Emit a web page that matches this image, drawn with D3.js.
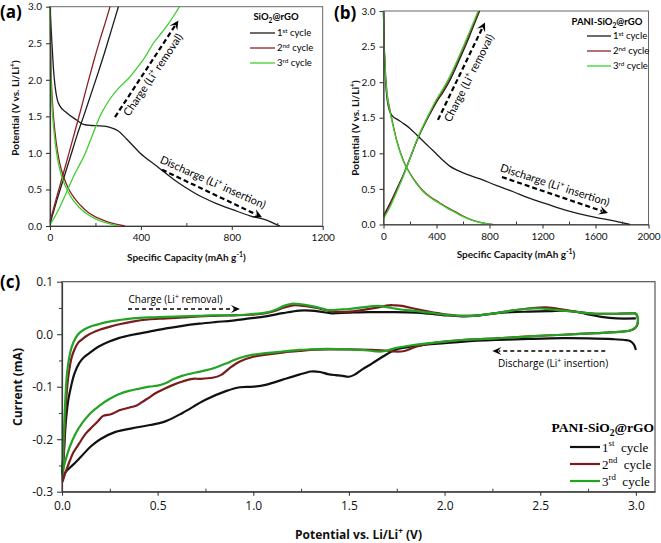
<!DOCTYPE html>
<html><head><meta charset="utf-8">
<script src="https://cdn.jsdelivr.net/npm/d3@7"></script>
<style>body{margin:0;background:#fff}</style>
</head><body>
<svg id="chart" width="661" height="543"></svg>
<script>
// ---------- DATA ----------
// Panel (a) SiO2@rGO : [capacity mAh/g, potential V]
const aDis1 = [[0,3.0],[4,2.75],[10,2.42],[16,2.12],[22,1.92],[32,1.73],[44,1.64],[73,1.55],[117,1.45],[147,1.39],[180,1.375],[220,1.37],[264,1.35],[301,1.30],[337,1.19],[396,1.00],[469,0.82],[543,0.64],[600,0.52],[660,0.41],[730,0.31],[807,0.22],[880,0.14],[953,0.08],[990,0.03],[1012,0.0]];
const aChg1 = [[2,0.05],[30,0.35],[60,0.65],[90,0.95],[120,1.25],[150,1.52],[180,1.8],[210,2.08],[240,2.37],[270,2.68],[301,3.0]];
const aDis2 = [[0,3.0],[2,2.6],[4,2.2],[8,1.85],[14,1.55],[22,1.28],[33,1.02],[45,0.83],[60,0.67],[80,0.52],[105,0.39],[135,0.28],[170,0.18],[210,0.11],[250,0.06],[290,0.025],[330,0.0]];
const aChg2 = [[0,0.06],[28,0.38],[55,0.68],[82,0.98],[110,1.3],[138,1.62],[165,1.94],[192,2.25],[220,2.55],[245,2.8],[264,3.0]];
const aDis3 = [[0,3.0],[2,2.55],[4,2.15],[7,1.8],[12,1.5],[20,1.22],[30,0.98],[42,0.79],[57,0.63],[76,0.49],[100,0.36],[130,0.25],[165,0.16],[205,0.09],[245,0.045],[280,0.015],[300,0.0]];
const aChg3 = [[0,0.02],[20,0.12],[40,0.24],[70,0.44],[95,0.62],[120,0.78],[150,0.96],[175,1.15],[200,1.35],[220,1.5],[260,1.72],[300,1.88],[340,2.0],[380,2.15],[420,2.32],[455,2.5],[490,2.64],[520,2.76],[550,2.9],[570,3.0]];

// Panel (b) PANI-SiO2@rGO
const bDis1 = [[0,3.0],[4,2.6],[9,2.3],[16,2.0],[28,1.75],[45,1.6],[70,1.52],[110,1.47],[150,1.42],[200,1.35],[250,1.26],[300,1.17],[350,1.08],[400,0.99],[450,0.9],[500,0.82],[560,0.76],[620,0.71],[730,0.64],[850,0.55],[980,0.46],[1100,0.37],[1230,0.29],[1360,0.21],[1480,0.15],[1600,0.1],[1730,0.055],[1800,0.025],[1860,0.0]];
const bChg1 = [[0,0.12],[50,0.3],[100,0.5],[150,0.7],[200,0.93],[250,1.17],[300,1.37],[350,1.55],[400,1.72],[450,1.86],[500,2.02],[550,2.22],[600,2.43],[650,2.65],[690,2.84],[725,3.0]];
const bDis2 = [[0,3.0],[3,2.6],[8,2.4],[16,2.1],[25,1.88],[50,1.6],[75,1.38],[100,1.18],[150,0.9],[200,0.72],[250,0.58],[300,0.47],[352,0.39],[420,0.31],[480,0.24],[540,0.18],[600,0.12],[660,0.07],[730,0.03],[790,0.01],[825,0.0]];
const bChg2 = [[0,0.1],[50,0.28],[100,0.48],[150,0.69],[200,0.93],[250,1.17],[300,1.38],[350,1.57],[400,1.74],[450,1.89],[500,2.06],[550,2.26],[600,2.47],[650,2.69],[690,2.87],[720,3.0]];
const bDis3 = [[0,3.0],[3,2.58],[8,2.38],[16,2.08],[25,1.86],[50,1.58],[75,1.36],[100,1.17],[150,0.89],[200,0.71],[250,0.57],[300,0.46],[352,0.38],[420,0.3],[480,0.23],[540,0.17],[600,0.11],[660,0.065],[730,0.028],[790,0.008],[815,0.0]];
const bChg3 = [[0,0.08],[50,0.25],[100,0.46],[150,0.68],[200,0.93],[250,1.18],[300,1.39],[350,1.58],[400,1.76],[450,1.91],[500,2.08],[550,2.28],[600,2.49],[650,2.71],[688,2.88],[714,3.0]];

// Panel (c) CV : [potential V, current mA]
const c1Down = [[3.0,-0.03],[2.99,-0.02],[2.97,-0.013],[2.94,-0.011],[2.88,-0.0095],[2.75,-0.008],[2.62,-0.0076],[2.44,-0.009],[2.27,-0.011],[2.1,-0.014],[2.0,-0.017],[1.9,-0.02],[1.8,-0.025],[1.74,-0.030],[1.68,-0.042],[1.62,-0.056],[1.57,-0.067],[1.53,-0.077],[1.5,-0.081],[1.46,-0.079],[1.43,-0.078],[1.39,-0.076],[1.35,-0.072],[1.3,-0.071],[1.27,-0.074],[1.24,-0.077],[1.15,-0.087],[1.07,-0.096],[1.0,-0.10],[0.93,-0.101],[0.86,-0.108],[0.75,-0.125],[0.63,-0.15],[0.54,-0.166],[0.46,-0.173],[0.37,-0.179],[0.28,-0.186],[0.2,-0.2],[0.15,-0.214],[0.1,-0.233],[0.06,-0.248],[0.03,-0.258],[0.003,-0.267]];
const c1Up = [[0.003,-0.267],[0.01,-0.225],[0.021,-0.163],[0.033,-0.125],[0.047,-0.1],[0.065,-0.075],[0.09,-0.055],[0.115,-0.044],[0.143,-0.036],[0.19,-0.024],[0.247,-0.014],[0.3,-0.007],[0.369,-0.001],[0.456,0.005],[0.544,0.011],[0.63,0.016],[0.718,0.02],[0.8,0.023],[0.892,0.026],[0.98,0.03],[1.066,0.034],[1.153,0.040],[1.24,0.045],[1.3,0.045],[1.35,0.043],[1.4,0.040],[1.5,0.041],[1.6,0.042],[1.74,0.042],[1.85,0.041],[1.92,0.039],[2.0,0.036],[2.09,0.034],[2.18,0.036],[2.27,0.04],[2.35,0.042],[2.44,0.043],[2.55,0.044],[2.62,0.045],[2.7,0.042],[2.76,0.037],[2.82,0.033],[2.9,0.030],[3.0,0.030]];
const c2Down = [[3.0,0.040],[3.01,0.03],[3.008,0.018],[2.995,0.011],[2.97,0.007],[2.93,0.005],[2.79,0.002],[2.62,-0.001],[2.44,-0.004],[2.27,-0.008],[2.09,-0.011],[2.0,-0.014],[1.92,-0.018],[1.85,-0.024],[1.79,-0.032],[1.74,-0.033],[1.69,-0.031],[1.62,-0.030],[1.5,-0.029],[1.39,-0.029],[1.3,-0.030],[1.24,-0.032],[1.15,-0.035],[1.066,-0.039],[1.0,-0.043],[0.93,-0.052],[0.875,-0.065],[0.83,-0.078],[0.787,-0.083],[0.72,-0.085],[0.683,-0.085],[0.63,-0.09],[0.578,-0.097],[0.53,-0.105],[0.491,-0.112],[0.45,-0.122],[0.42,-0.129],[0.39,-0.136],[0.35,-0.14],[0.3,-0.145],[0.26,-0.152],[0.213,-0.156],[0.19,-0.165],[0.16,-0.176],[0.125,-0.189],[0.09,-0.208],[0.06,-0.225],[0.04,-0.242],[0.02,-0.262],[0.008,-0.275],[0.003,-0.281]];
const c2Up = [[0.003,-0.281],[0.008,-0.24],[0.013,-0.195],[0.021,-0.131],[0.03,-0.09],[0.038,-0.068],[0.05,-0.045],[0.064,-0.030],[0.085,-0.016],[0.108,-0.009],[0.13,-0.003],[0.16,0.003],[0.2,0.009],[0.247,0.014],[0.3,0.019],[0.369,0.024],[0.45,0.028],[0.544,0.030],[0.63,0.032],[0.718,0.034],[0.8,0.035],[0.892,0.036],[0.98,0.037],[1.066,0.040],[1.12,0.045],[1.153,0.050],[1.206,0.055],[1.24,0.055],[1.3,0.052],[1.345,0.049],[1.4,0.044],[1.5,0.043],[1.567,0.046],[1.654,0.051],[1.707,0.055],[1.74,0.055],[1.777,0.054],[1.85,0.048],[1.917,0.043],[2.0,0.038],[2.09,0.035],[2.18,0.036],[2.27,0.040],[2.35,0.045],[2.44,0.049],[2.53,0.051],[2.62,0.047],[2.7,0.042],[2.79,0.039],[2.9,0.039],[3.0,0.040]];
const c3Down = [[3.0,0.040],[3.01,0.032],[3.008,0.02],[2.995,0.012],[2.97,0.007],[2.93,0.005],[2.79,0.002],[2.62,-0.001],[2.44,-0.004],[2.27,-0.008],[2.09,-0.011],[2.0,-0.014],[1.92,-0.017],[1.83,-0.021],[1.75,-0.026],[1.69,-0.032],[1.65,-0.033],[1.6,-0.031],[1.5,-0.029],[1.39,-0.028],[1.3,-0.029],[1.24,-0.030],[1.15,-0.033],[1.066,-0.036],[1.0,-0.039],[0.95,-0.043],[0.9,-0.049],[0.857,-0.056],[0.8,-0.064],[0.75,-0.069],[0.7,-0.073],[0.631,-0.079],[0.58,-0.086],[0.544,-0.093],[0.5,-0.098],[0.456,-0.10],[0.4,-0.104],[0.35,-0.108],[0.3,-0.114],[0.25,-0.123],[0.2,-0.135],[0.15,-0.150],[0.108,-0.168],[0.07,-0.19],[0.04,-0.215],[0.021,-0.237],[0.01,-0.252],[0.003,-0.268]];
const c3Up = [[0.003,-0.268],[0.007,-0.22],[0.012,-0.17],[0.018,-0.12],[0.025,-0.08],[0.035,-0.05],[0.05,-0.025],[0.07,-0.008],[0.09,0.002],[0.12,0.01],[0.16,0.016],[0.2,0.02],[0.247,0.024],[0.3,0.027],[0.369,0.030],[0.45,0.032],[0.544,0.033],[0.63,0.034],[0.718,0.035],[0.8,0.036],[0.892,0.036],[0.98,0.038],[1.066,0.041],[1.12,0.047],[1.16,0.054],[1.2,0.058],[1.25,0.057],[1.3,0.054],[1.35,0.050],[1.39,0.046],[1.45,0.047],[1.5,0.048],[1.57,0.051],[1.654,0.054],[1.707,0.051],[1.77,0.047],[1.83,0.045],[1.92,0.041],[2.0,0.037],[2.09,0.035],[2.18,0.036],[2.27,0.040],[2.35,0.045],[2.44,0.049],[2.5,0.049],[2.56,0.047],[2.62,0.045],[2.7,0.042],[2.79,0.039],[2.9,0.039],[3.0,0.040]];

// tick values
const abYTicks = [0,0.5,1,1.5,2,2.5,3];
const aXTicks = [0,400,800,1200];
const aXMinor = [200,600,1000];
const bXTicks = [0,400,800,1200,1600,2000];
const bXMinor = [200,600,1000,1400,1800];
const cXTicks = [0,0.5,1,1.5,2,2.5,3];
const cXMinor = [0.25,0.75,1.25,1.75,2.25,2.75];
const cYTicks = [-0.3,-0.2,-0.1,0,0.1];
const cYMinor = [-0.25,-0.15,-0.05,0.05];
const cycleNames = [["1","st"," cycle"],["2","nd"," cycle"],["3","rd"," cycle"]];

// annotations in data units
const aChargeArrow = [[286,1.49],[565,2.81]], aChargeText = [453,2.07];
const aDisArrow = [[493,0.77],[933,0.12]], aDisText = [717,0.60];
const bChargeArrow = [[411,1.47],[766,2.84]], bChargeText = [645,2.06];
const bDisArrow = [[894,0.667],[1694,0.16]], bDisText = [1294,0.555];
const cChargeArrow = [[0.345,0.048],[0.93,0.048]], cChargeText = [0.593,0.066];
const cDisArrow = [[2.84,-0.032],[2.25,-0.032]], cDisText = [2.567,-0.0566];

// ---------- DRAW ----------
const svg = d3.select("#chart");
svg.append("rect").attr("width",661).attr("height",543).attr("fill","#fff");
const AX = "#3a3a3a";
const SANS_AB = "Lato";
const SANS_C = "Open Sans";

function richText(parent, x, y, parts, o) {
  const t = parent.append("text").attr("x", x).attr("y", y)
    .attr("font-family", o.font).attr("font-size", o.size)
    .attr("font-weight", o.weight || "normal").attr("fill", o.fill || "#000")
    .attr("text-anchor", o.anchor || "start").style("white-space","pre");
  let shift = 0;
  parts.forEach(p => {
    if (typeof p === "string") p = {t:p};
    const ts = t.append("tspan").text(p.t);
    let target = 0, fs = o.size;
    if (p.sup) { target = -o.size * 0.4; fs = o.size * 0.68; }
    if (p.sub) { target = o.size * 0.28; fs = o.size * 0.7; }
    ts.attr("font-size", fs);
    if (target - shift !== 0) ts.attr("dy", target - shift);
    shift = target;
  });
  return t;
}

function arrow(g, p1, p2, sw, dash, hl, hw) {
  const dx = p2[0]-p1[0], dy = p2[1]-p1[1], L = Math.hypot(dx,dy), ux = dx/L, uy = dy/L;
  const bx = p2[0]-ux*hl, by = p2[1]-uy*hl;
  g.append("line").attr("x1",p1[0]).attr("y1",p1[1]).attr("x2",bx+ux*hl*0.3).attr("y2",by+uy*hl*0.3)
    .attr("stroke","#000").attr("stroke-width",sw).attr("stroke-dasharray",dash);
  const nx = -uy, ny = ux;
  const pts = [[p2[0],p2[1]],[bx+nx*hw,by+ny*hw],[bx+ux*hl*0.4,by+uy*hl*0.4],[bx-nx*hw,by-ny*hw]];
  g.append("path").attr("d","M"+pts.map(p=>p.join(",")).join("L")+"Z").attr("fill","#000");
}

function rotText(g, cx, cy, angle, parts, o) {
  const gg = g.append("g").attr("transform",`translate(${cx},${cy}) rotate(${angle})`);
  richText(gg, 0, o.size*0.35, parts, Object.assign({anchor:"middle"}, o));
}

function styleAxis(sel, fs, font) {
  sel.select(".domain").attr("stroke", AX).attr("stroke-width", 1.2);
  sel.selectAll(".tick line").attr("stroke", AX).attr("stroke-width", 1.1);
  sel.selectAll(".tick text").attr("font-family", font).attr("font-size", fs).attr("fill","#111");
}

function gcdPanel(cfg) {
  const g = svg.append("g");
  const x = d3.scaleLinear().domain(cfg.xdom).range([cfg.left, cfg.right]);
  const y = d3.scaleLinear().domain([0,3]).range([cfg.bottom, cfg.top]);
  g.append("rect").attr("x",cfg.left).attr("y",cfg.top).attr("width",cfg.right-cfg.left)
    .attr("height",cfg.bottom-cfg.top).attr("fill","none").attr("stroke","#666").attr("stroke-width",1);
  const line = d3.line().x(d=>x(d[0])).y(d=>y(d[1])).curve(d3.curveMonotoneX);
  const cols = ["#1c1c1c","#8a2424","#3fcf2f"];
  cfg.series.forEach(s => {
    g.append("path").datum(s.d).attr("d", line).attr("fill","none")
      .attr("stroke", cols[s.c]).attr("stroke-width", 1.3);
  });
  const xa = g.append("g").attr("transform",`translate(0,${cfg.bottom})`)
    .call(d3.axisBottom(x).tickValues(cfg.xticks).tickSize(4).tickSizeOuter(0).tickPadding(4).tickFormat(d3.format("d")));
  styleAxis(xa, 10, SANS_AB);
  const xm = g.append("g").attr("transform",`translate(0,${cfg.bottom})`)
    .call(d3.axisBottom(x).tickValues(cfg.xminor).tickSize(-3).tickFormat(""));
  xm.select(".domain").remove(); xm.selectAll("line").attr("stroke",AX);
  const ya = g.append("g").attr("transform",`translate(${cfg.left},0)`)
    .call(d3.axisLeft(y).tickValues(abYTicks).tickSize(4).tickSizeOuter(0).tickPadding(4).tickFormat(d=>d.toFixed(1)));
  styleAxis(ya, 10, SANS_AB);
  richText(g, (cfg.left+cfg.right)/2, cfg.xtitleY, ["Specific Capacity (mAh g",{t:"-1",sup:true},")"],
    {font:SANS_AB, size:10, weight:"bold", anchor:"middle", fill:"#111"});
  rotText(g, cfg.ytitleX, cfg.ytitleY, -90, ["Potential (V vs. Li/Li",{t:"+",sup:true},")"],
    {font:SANS_AB, size:10, weight:"bold", fill:"#111"});
  g.append("text").attr("x",cfg.letterX).attr("y",cfg.letterY).text(cfg.letter)
    .attr("font-family","Open Sans").attr("font-weight","bold").attr("font-size",17);
  richText(g, cfg.legTitleX, cfg.legTitleY, cfg.legTitle, {font:SANS_AB, size:9.5, weight:"bold", anchor:"middle"});
  cycleNames.forEach((n,i) => {
    const yy = cfg.legY0 + i*15;
    g.append("line").attr("x1",cfg.legX1).attr("x2",cfg.legX2).attr("y1",yy).attr("y2",yy)
      .attr("stroke",cols[i]).attr("stroke-width",1.3);
    richText(g, cfg.legX2+2, yy+3.3, [n[0],{t:n[1],sup:true},n[2]], {font:SANS_AB, size:9.5});
  });
  const P = p => [x(p[0]), y(p[1])];
  arrow(g, P(cfg.chA[0]), P(cfg.chA[1]), 2.2, "5,3", 9, 4.5);
  arrow(g, P(cfg.diA[0]), P(cfg.diA[1]), 2.2, "5,3", 9, 4.5);
  rotText(g, x(cfg.chT[0]), y(cfg.chT[1]), cfg.chRot, ["Charge (Li",{t:"+",sup:true}," removal)"], {font:SANS_AB, size:11});
  rotText(g, x(cfg.diT[0]), y(cfg.diT[1]), cfg.diRot, ["Discharge (Li",{t:"+",sup:true}," insertion)"], {font:SANS_AB, size:11});
}

gcdPanel({left:50, right:322.7, top:6.7, bottom:226, xdom:[0,1200], xticks:aXTicks, xminor:aXMinor,
  series:[{d:aDis1,c:0},{d:aChg1,c:0},{d:aDis2,c:1},{d:aChg2,c:1},{d:aDis3,c:2},{d:aChg3,c:2}],
  xtitleY:261, ytitleX:15, ytitleY:108, letter:"(a)", letterX:0, letterY:18,
  legTitle:["SiO",{t:"2",sub:true},"@rGO"], legTitleX:276, legTitleY:20, legY0:33, legX1:250, legX2:275,
  chA:aChargeArrow, diA:aDisArrow, chT:aChargeText, diT:aDisText, chRot:-56, diRot:24});

gcdPanel({left:383.5, right:648.5, top:11, bottom:224.5, xdom:[0,2000], xticks:bXTicks, xminor:bXMinor,
  series:[{d:bDis1,c:0},{d:bChg1,c:0},{d:bDis2,c:1},{d:bChg2,c:1},{d:bDis3,c:2},{d:bChg3,c:2}],
  xtitleY:258, ytitleX:355, ytitleY:128, letter:"(b)", letterX:334, letterY:19,
  legTitle:["PANI-SiO",{t:"2",sub:true},"@rGO"], legTitleX:607, legTitleY:25, legY0:36, legX1:587, legX2:611,
  chA:bChargeArrow, diA:bDisArrow, chT:bChargeText, diT:bDisText, chRot:-63, diRot:18});

// ---- panel (c)
(function(){
  const L=62, R=655, T=281.7, B=491.7;
  const g = svg.append("g");
  const x = d3.scaleLinear().domain([0,3.1]).range([L,R]);
  const y = d3.scaleLinear().domain([-0.3,0.1]).range([B,T]);
  g.append("rect").attr("x",L).attr("y",T).attr("width",R-L).attr("height",B-T)
    .attr("fill","none").attr("stroke","#555").attr("stroke-width",1.2);
  const line = d3.line().x(d=>x(d[0])).y(d=>y(d[1])).curve(d3.curveCatmullRom.alpha(0.5));
  const cols = ["#111111","#7a1c1c","#23a323"];
  const loops = [c1Down.concat(c1Up.slice(1)), c2Down.concat(c2Up.slice(1)), c3Down.concat(c3Up.slice(1))];
  loops.forEach((d,i) => g.append("path").datum(d).attr("d",line).attr("fill","none")
    .attr("stroke",cols[i]).attr("stroke-width",2.2).attr("stroke-linejoin","round"));
  const xa = g.append("g").attr("transform",`translate(0,${B})`)
    .call(d3.axisBottom(x).tickValues(cXTicks).tickSize(4).tickSizeOuter(0).tickPadding(6).tickFormat(d=>d.toFixed(1)));
  styleAxis(xa, 12, SANS_C);
  const xm = g.append("g").attr("transform",`translate(0,${B})`)
    .call(d3.axisBottom(x).tickValues(cXMinor).tickSize(-3).tickFormat(""));
  xm.select(".domain").remove(); xm.selectAll("line").attr("stroke",AX);
  const ya = g.append("g").attr("transform",`translate(${L},0)`)
    .call(d3.axisLeft(y).tickValues(cYTicks).tickSize(5).tickSizeOuter(0).tickPadding(4).tickFormat(d=>d.toFixed(1)));
  styleAxis(ya, 12, SANS_C);
  const ym = g.append("g").attr("transform",`translate(${L},0)`)
    .call(d3.axisLeft(y).tickValues(cYMinor).tickSize(3).tickFormat(""));
  ym.select(".domain").remove(); ym.selectAll("line").attr("stroke",AX);

  richText(g, (L+R)/2, 539, ["Potential vs. Li/Li",{t:"+",sup:true}," (V)"],
    {font:SANS_C, size:12, weight:"bold", anchor:"middle", fill:"#111"});
  rotText(g, 18, 387, -90, ["Current (mA)"], {font:SANS_C, size:12, weight:"bold", fill:"#111"});
  g.append("text").attr("x",0).attr("y",288).text("(c)")
    .attr("font-family","Open Sans").attr("font-weight","bold").attr("font-size",17);

  richText(g, 654, 432, ["PANI-SiO",{t:"2",sub:true},"@rGO"], {font:"Liberation Serif", size:13.5, weight:"bold", anchor:"end"});
  cycleNames.forEach((n,i) => {
    const yy = 447 + i*17;
    g.append("line").attr("x1",570).attr("x2",600).attr("y1",yy).attr("y2",yy)
      .attr("stroke",cols[i]).attr("stroke-width",2.2);
    richText(g, 602, yy+4.5, [n[0],{t:n[1],sup:true}," "+n[2]], {font:"Liberation Serif", size:13});
  });
  const P = p => [x(p[0]), y(p[1])];
  arrow(g, P(cChargeArrow[0]), P(cChargeArrow[1]), 1.6, "4,3", 9, 4);
  arrow(g, P(cDisArrow[0]), P(cDisArrow[1]), 1.6, "4,3", 9, 4);
  rotText(g, x(cChargeText[0]), y(cChargeText[1]), 0, ["Charge (Li",{t:"+",sup:true}," removal)"], {font:SANS_C, size:10});
  rotText(g, x(cDisText[0]), y(cDisText[1]), 0, ["Discharge (Li",{t:"+",sup:true}," insertion)"], {font:SANS_C, size:10});
})();
</script>
</body></html>
